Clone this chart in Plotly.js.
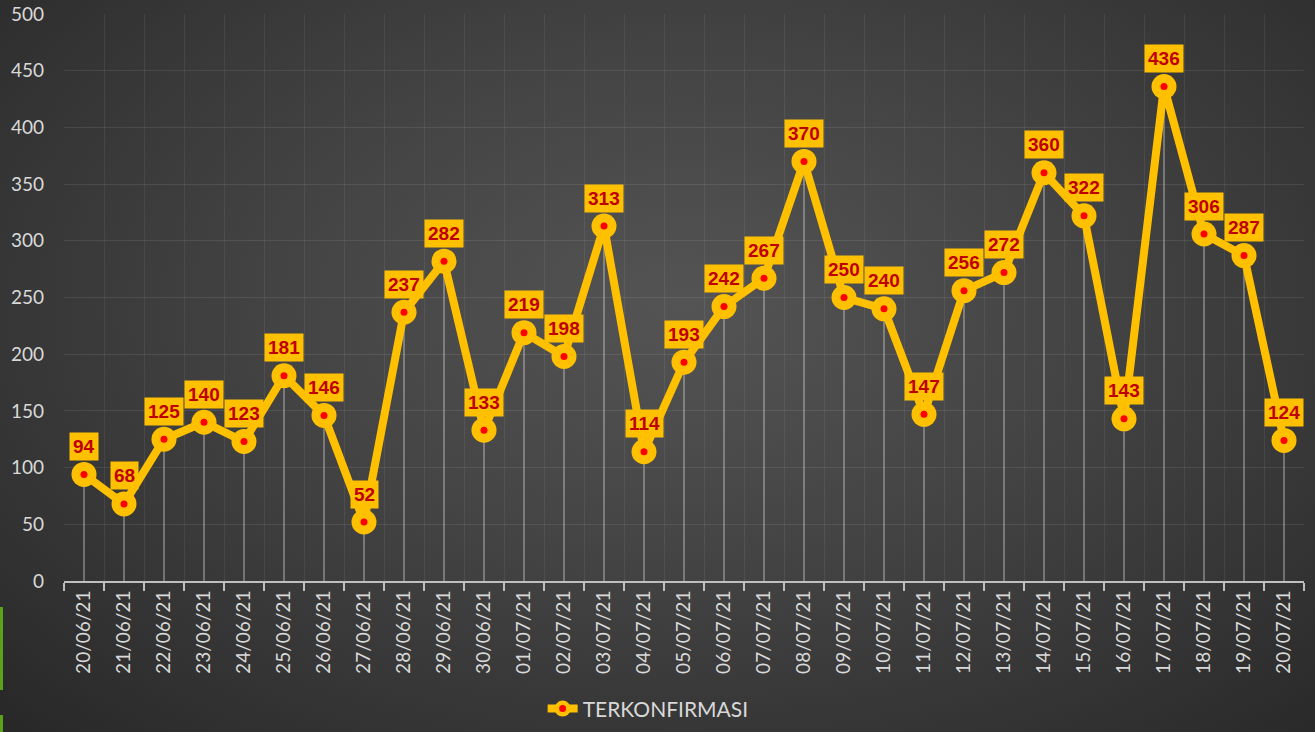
<!DOCTYPE html>
<html>
<head>
<meta charset="utf-8">
<script src="https://cdn.plot.ly/plotly-3.0.1.min.js"></script>
<style>
html,body{margin:0;padding:0;width:1315px;height:732px;overflow:hidden;}
body{background:radial-gradient(ellipse 75% 85% at 52% 42%, #545454 0%, #444444 40%, #333333 75%, #262626 100%);}
#chart{position:absolute;left:0;top:0;width:1315px;height:732px;}
.edge{position:absolute;left:0;width:3px;background:#5aa21e;}
</style>
</head>
<body>
<div id="chart"></div>
<div class="edge" style="top:607px;height:83px"></div>
<div class="edge" style="top:715px;height:17px"></div>
<script>
var dates = ["20/06/21","21/06/21","22/06/21","23/06/21","24/06/21","25/06/21","26/06/21","27/06/21","28/06/21","29/06/21","30/06/21","01/07/21","02/07/21","03/07/21","04/07/21","05/07/21","06/07/21","07/07/21","08/07/21","09/07/21","10/07/21","11/07/21","12/07/21","13/07/21","14/07/21","15/07/21","16/07/21","17/07/21","18/07/21","19/07/21","20/07/21"];
var terkonfirmasi = [94,68,125,140,123,181,146,52,237,282,133,219,198,313,114,193,242,267,370,250,240,147,256,272,360,322,143,436,306,287,124];
var seriesName = "TERKONFIRMASI";
var yTicks = [0,50,100,150,200,250,300,350,400,450,500];

var yellow = "#FFC000";
var textGrey = "#D9D9D9";

var mainTrace = {
  type: "scatter", mode: "lines+markers", name: seriesName,
  x: dates, y: terkonfirmasi,
  line: {color: yellow, width: 8},
  marker: {color: yellow, size: 25, line: {width: 0}},
  error_y: {type: "data", symmetric: false,
            array: terkonfirmasi.map(function(){return 0;}),
            arrayminus: terkonfirmasi,
            width: 0, thickness: 1.2, color: "rgba(210,210,210,0.65)"},
  showlegend: true, legend: "legend"
};
var dotTrace = {
  type: "scatter", mode: "markers", name: "",
  x: dates, y: terkonfirmasi,
  marker: {color: "#FF0000", size: 7},
  showlegend: true, legend: "legend2", hoverinfo: "skip"
};

var annotations = terkonfirmasi.map(function(v, i){
  return {
    x: dates[i], y: v, xref: "x", yref: "y",
    text: "<b>" + v + "</b>", showarrow: false,
    yshift: 28, bgcolor: yellow, borderpad: 3,
    font: {family: "Liberation Sans Narrow, Arial Narrow, Liberation Sans, sans-serif", size: 19, color: "#C00000"}
  };
});

var legendBase = {
  orientation: "h", x: 0.386, xanchor: "left", y: -0.2257, yanchor: "middle",
  font: {family: "Lato, sans-serif", size: 21, color: textGrey},
  bgcolor: "rgba(0,0,0,0)"
};

var layout = {
  width: 1315, height: 732,
  paper_bgcolor: "rgba(0,0,0,0)", plot_bgcolor: "rgba(0,0,0,0)",
  margin: {l: 64, r: 11, t: 14, b: 151, autoexpand: false},
  font: {family: "Lato, sans-serif", color: textGrey},
  xaxis: {
    type: "category", tickson: "boundaries", automargin: false,
    showgrid: true, gridcolor: "rgba(255,255,255,0.07)", gridwidth: 1,
    ticks: "outside", ticklen: 8, tickcolor: "#BFBFBF", tickwidth: 2,
    showline: true, linecolor: "#BFBFBF", linewidth: 2,
    tickangle: -90, tickfont: {family: "Lato, sans-serif", size: 19, color: textGrey},
    range: [-0.5, dates.length - 0.5], fixedrange: true
  },
  yaxis: {
    range: [0, 500], tickvals: yTicks, automargin: false,
    showgrid: true, gridcolor: "rgba(255,255,255,0.09)", gridwidth: 1,
    zeroline: false, showline: false, ticks: "",
    ticklabelstandoff: 19,
    tickfont: {family: "Lato, sans-serif", size: 19, color: textGrey},
    fixedrange: true
  },
  showlegend: true,
  legend: legendBase,
  legend2: Object.assign({}, legendBase),
  annotations: annotations
};

Plotly.newPlot("chart", [mainTrace, dotTrace], layout, {displayModeBar: false, staticPlot: true});
</script>
</body>
</html>
